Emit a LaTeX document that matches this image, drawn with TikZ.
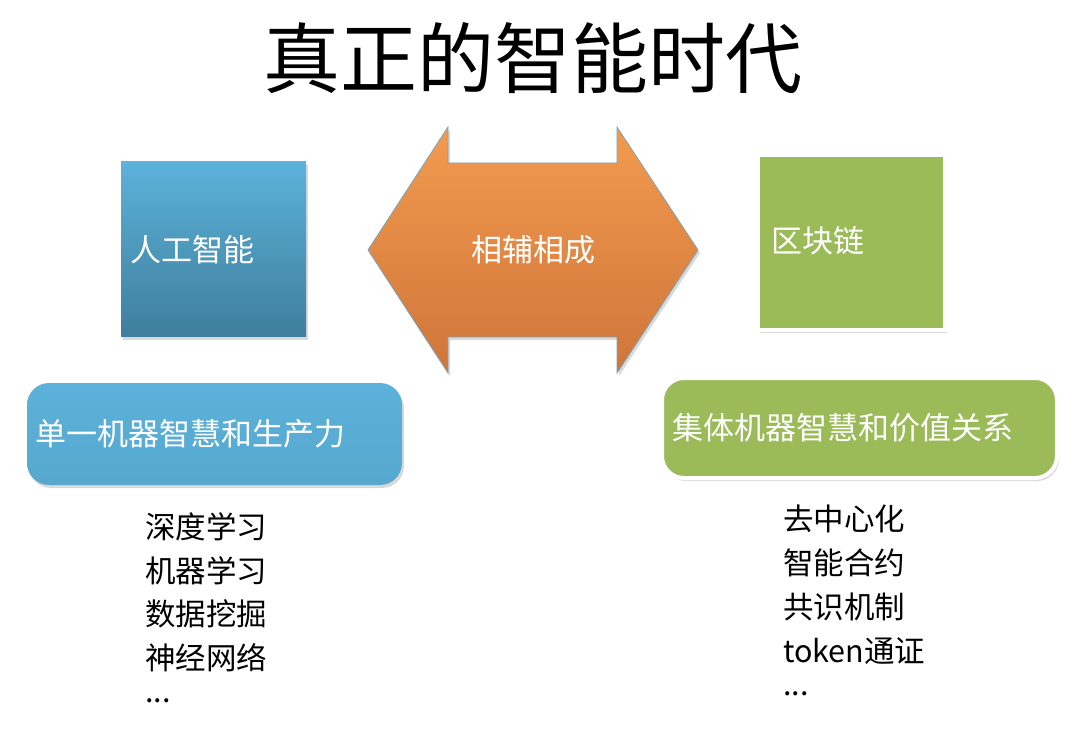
\documentclass[tikz,border=0pt]{standalone}
\usepackage{fontspec}
\newfontfamily\cjk{Noto Sans CJK SC}
\usetikzlibrary{shadows}
\definecolor{bluetop}{HTML}{5CB2DA}
\definecolor{bluebot}{HTML}{3F7E9C}
\definecolor{orgtop}{HTML}{F29B4F}
\definecolor{orgbot}{HTML}{D0753A}
\definecolor{grn}{HTML}{9BBB59}
\tikzset{
  lbl/.style={font=\cjk\fontsize{31}{34}\selectfont, inner sep=0pt},
  lst/.style={font=\cjk\fontsize{30.5}{34}\selectfont, inner sep=0pt, anchor=west},
  sh/.style={drop shadow={shadow xshift=2pt,shadow yshift=-3pt,opacity=0.3}}
}
\begin{document}
\begin{tikzpicture}[x=1pt,y=-1pt]
\useasboundingbox (0,0) rectangle (1080,738);
\node[font=\cjk\fontsize{77}{80}\selectfont] (title) at (533,58) {真正的智能时代};
% blue square
\path[sh, top color=bluetop, bottom color=bluebot] (121,162) rectangle (306,337);
\node[lbl, anchor=west, text=white] (ai) at (130,250) {人工智能};
% arrow
\path[sh, draw=bluebot!70, line width=0.8pt, top color=orgtop, bottom color=orgbot]
  (368,250) -- (448,127) -- (448,163) -- (617,163) -- (617,127) -- (698,250)
  -- (617,373) -- (617,337) -- (448,337) -- (448,373) -- cycle;
\node[lbl, text=white] (mid) at (533,250) {相辅相成};
% green square
\path[sh, fill=grn, draw=white, line width=4pt] (758,155) rectangle (945,330);
\node[lbl, anchor=west, text=white] (bc) at (771,241) {区块链};
% rounded boxes
\path[sh, top color=bluetop, bottom color=bluetop!80!bluebot, rounded corners=22pt] (27,383) rectangle (402,485);
\node[lbl, anchor=west, text=white] (single) at (35,434) {单一机器智慧和生产力};
\path[sh, fill=grn, draw=white, line width=4pt, rounded corners=22pt] (662,378) rectangle (1057,478);
\node[lbl, anchor=west, text=white] (group) at (672,428) {集体机器智慧和价值关系};
% lists
\node[lst] (l1) at (145,527) {深度学习};
\node[lst] (l2) at (145,571) {机器学习};
\node[lst] (l3) at (145,614) {数据挖掘};
\node[lst] (l4) at (145,658) {神经网络};
\node[lst] (l5) at (145,701) {...};
\node[lst] (r1) at (783,519) {去中心化};
\node[lst] (r2) at (783,563) {智能合约};
\node[lst] (r3) at (783,607) {共识机制};
\node[lst] (r4) at (783,651) {token通证};
\node[lst] (r5) at (783,694) {...};
\end{tikzpicture}
\end{document}
